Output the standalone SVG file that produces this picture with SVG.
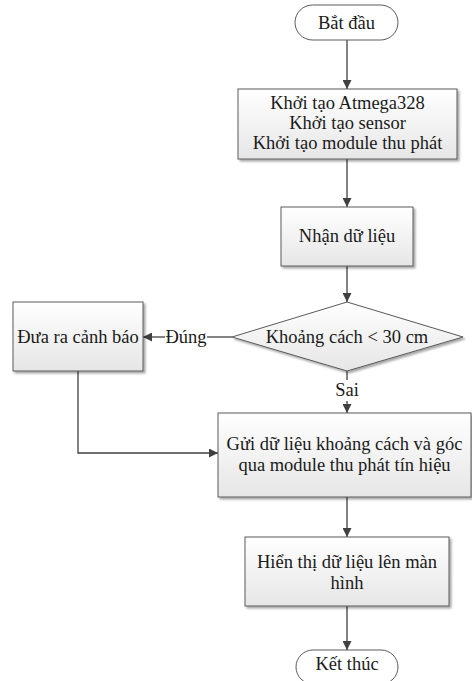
<svg xmlns="http://www.w3.org/2000/svg" width="472" height="681" viewBox="0 0 472 681">
<defs>
<linearGradient id="g" x1="0" y1="0" x2="0" y2="1">
<stop offset="0" stop-color="#ffffff"/>
<stop offset="1" stop-color="#e6e6e6"/>
</linearGradient>
<marker id="a" viewBox="0 0 10 10" refX="10" refY="5" markerWidth="9" markerHeight="9" markerUnits="userSpaceOnUse" orient="auto">
<path d="M0,0 L10,5 L0,10 z" fill="#404040"/>
</marker>
<filter id="s" x="-5%" y="-5%" width="115%" height="120%">
<feDropShadow dx="2" dy="2" stdDeviation="1" flood-color="#000" flood-opacity="0.35"/>
</filter>
</defs>
<style>
.b{fill:url(#g);stroke:#5a5a5a;stroke-width:1;filter:url(#s)}
.p{fill:#fff;stroke:#5a5a5a;stroke-width:1}
.t{font-family:"Liberation Serif","Times New Roman",serif;font-size:18.5px;fill:#1a1a1a;text-anchor:middle}
.c{fill:none;stroke:#404040;stroke-width:1.3}
</style>
<g id="connectors">
<path class="c" d="M347,40 V89" marker-end="url(#a)"/>
<path class="c" d="M347,159 V207" marker-end="url(#a)"/>
<path class="c" d="M347,266 V302" marker-end="url(#a)"/>
<path class="c" d="M232,337 H207"/>
<path class="c" d="M165,337 H143" marker-end="url(#a)"/>
<path class="c" d="M347,371 V380"/>
<path class="c" d="M347,401 V413" marker-end="url(#a)"/>
<path class="c" d="M78,371 V453 H218" marker-end="url(#a)"/>
<path class="c" d="M347,497 V537" marker-end="url(#a)"/>
<path class="c" d="M347,606 V650" marker-end="url(#a)"/>
<text class="t" x="186" y="343">Đúng</text>
<text class="t" x="347" y="396">Sai</text>
</g>
<g id="start">
<rect class="p" x="295" y="5" width="103" height="35" rx="17.5"/>
<text class="t" x="346.5" y="29">Bắt đầu</text>
</g>
<g id="init">
<rect class="b" x="238" y="89" width="219" height="70"/>
<text class="t" x="347.5" y="109">Khởi tạo Atmega328</text>
<text class="t" x="347.5" y="129">Khởi tạo sensor</text>
<text class="t" x="347.5" y="149">Khởi tạo module thu phát</text>
</g>
<g id="receive">
<rect class="b" x="281" y="207" width="132" height="59"/>
<text class="t" x="347" y="242">Nhận dữ liệu</text>
</g>
<g id="decision">
<polygon class="b" points="347,302 463,337 347,371 232,337"/>
<text class="t" x="347" y="343">Khoảng cách &lt; 30 cm</text>
</g>
<g id="warn">
<rect class="b" x="13" y="302" width="130" height="69"/>
<text class="t" x="78" y="343">Đưa ra cảnh báo</text>
</g>
<g id="send">
<rect class="b" x="218" y="413" width="253" height="84"/>
<text class="t" x="344.5" y="450">Gửi dữ liệu khoảng cách và góc</text>
<text class="t" x="344.5" y="471">qua module thu phát tín hiệu</text>
</g>
<g id="display">
<rect class="b" x="245" y="537" width="204" height="69"/>
<text class="t" x="347" y="568">Hiển thị dữ liệu lên màn</text>
<text class="t" x="347" y="589">hình</text>
</g>
<g id="end">
<rect class="p" x="296" y="650" width="102" height="34" rx="17"/>
<text class="t" x="347" y="670">Kết thúc</text>
</g>
</svg>
